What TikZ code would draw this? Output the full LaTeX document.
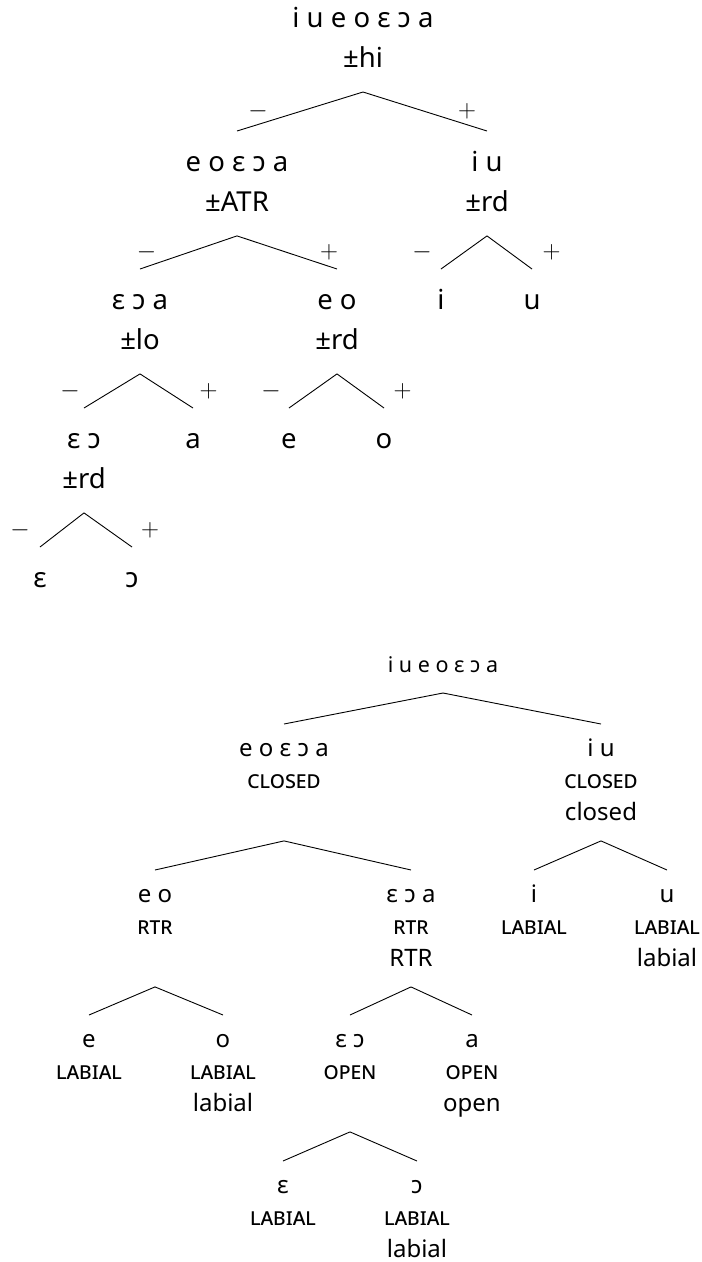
\documentclass[tikz,border=0pt]{standalone}
\usepackage{fontspec}
\setmainfont{Noto Sans}
\usepackage{tikz}
\usetikzlibrary{positioning}

\begin{document}
\begin{tikzpicture}[x=1pt, y=-1pt, line width=0.9pt,
    big/.style={align=center, anchor=north, inner xsep=0pt, inner ysep=12pt, font=\fontsize{27.5}{40}\selectfont, execute at end node=\strut},
    small/.style={big, inner ysep=10pt, font=\fontsize{24}{32}\selectfont},
    minuslabel/.style={midway, xshift=-42pt, font=\fontsize{26}{30}\selectfont},
    pluslabel/.style={midway, xshift=42pt, font=\fontsize{26}{30}\selectfont}]

    \useasboundingbox (0,0) rectangle (702,1262);

    % binary features
    \node[big, anchor=south] (t-root) at (363,92) {\strut i u e o ɛ ɔ a\\±hi};
    \node[big] (t-atr) at (237,131) {\strut e o ɛ ɔ a\\±ATR};
    \node[big] (t-iu) at (487,131) {\strut i u\\±rd};
    \node[big] (t-lo) at (140,269) {\strut ɛ ɔ a\\±lo};
    \node[big] (t-eo) at (337,269) {\strut e o\\±rd};
    \node[big] (t-i) at (441,269) {\strut i};
    \node[big] (t-u) at (532,269) {\strut u};
    \node[big] (t-epsopen) at (84,408) {\strut ɛ ɔ\\±rd};
    \node[big] (t-a) at (193,408) {\strut a};
    \node[big] (t-e) at (289,408) {\strut e};
    \node[big] (t-o) at (384,408) {\strut o};
    \node[big] (t-eps) at (40,547) {\strut ɛ};
    \node[big] (t-open) at (132,547) {\strut ɔ};

    % Edges
    \draw (t-root.south) -- node[minuslabel] {$-$} (t-atr.north);
    \draw (t-root.south) -- node[pluslabel] {$+$} (t-iu.north);
    \draw (t-atr.south) -- node[minuslabel] {$-$} (t-lo.north);
    \draw (t-atr.south) -- node[pluslabel] {$+$} (t-eo.north);
    \draw (t-iu.south) -- node[minuslabel] {$-$} (t-i.north);
    \draw (t-iu.south) -- node[pluslabel] {$+$} (t-u.north);
    \draw (t-lo.south) -- node[minuslabel] {$-$} (t-epsopen.north);
    \draw (t-lo.south) -- node[pluslabel] {$+$} (t-a.north);
    \draw (t-eo.south) -- node[minuslabel] {$-$} (t-e.north);
    \draw (t-eo.south) -- node[pluslabel] {$+$} (t-o.north);
    \draw (t-epsopen.south) -- node[minuslabel] {$-$} (t-eps.north);
    \draw (t-epsopen.south) -- node[pluslabel] {$+$} (t-open.north);

    % privative features
    \node[small, anchor=south, font=\fontsize{21.5}{32}\selectfont] (b-root) at (443,693) {\strut i u e o ɛ ɔ a};
    \node[small] (b-eoea) at (284,724) {\strut e o ɛ ɔ a\\\textsc{closed}};
    \node[small] (b-iu) at (601,724) {\strut i u\\\textsc{closed}\\closed};
    \node[small] (b-eo) at (155,870) {\strut e o\\\textsc{rtr}};
    \node[small] (b-ea) at (411,870) {\strut ɛ ɔ a\\\textsc{rtr}\\RTR};
    \node[small] (b-i) at (534,870) {\strut i\\\textsc{labial}};
    \node[small] (b-u) at (667,870) {\strut u\\\textsc{labial}\\labial};
    \node[small] (b-e) at (89,1015) {\strut e\\\textsc{labial}};
    \node[small] (b-o) at (223,1015) {\strut o\\\textsc{labial}\\labial};
    \node[small] (b-epsopen) at (350,1015) {\strut ɛ ɔ\\\textsc{open}};
    \node[small] (b-a) at (472,1015) {\strut a\\\textsc{open}\\open};
    \node[small] (b-eps) at (283,1161) {\strut ɛ\\\textsc{labial}};
    \node[small] (b-open) at (417,1161) {\strut ɔ\\\textsc{labial}\\labial};

    % Edges
    \draw (b-root.south) -- (b-eoea.north);
    \draw (b-root.south) -- (b-iu.north);
    \draw (b-eoea.south |- b-iu.south) -- (b-eo.north);
    \draw (b-eoea.south |- b-iu.south) -- (b-ea.north);
    \draw (b-iu.south) -- (b-i.north);
    \draw (b-iu.south) -- (b-u.north);
    \draw (b-eo.south |- b-ea.south) -- (b-e.north);
    \draw (b-eo.south |- b-ea.south) -- (b-o.north);
    \draw (b-ea.south) -- (b-epsopen.north);
    \draw (b-ea.south) -- (b-a.north);
    \draw (b-epsopen.south |- b-a.south) -- (b-eps.north);
    \draw (b-epsopen.south |- b-a.south) -- (b-open.north);

\end{tikzpicture}
\end{document}
